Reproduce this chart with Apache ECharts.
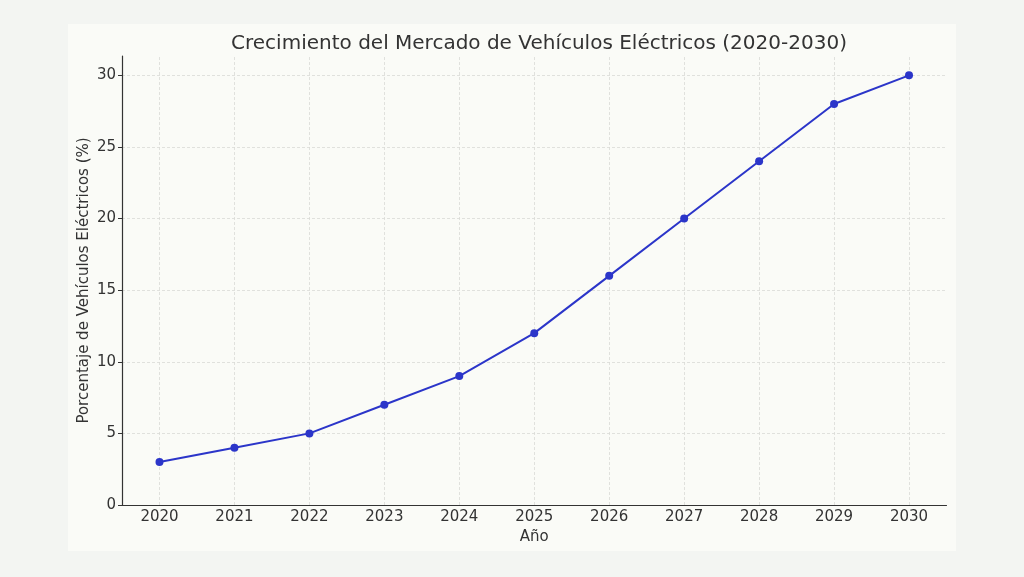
<!DOCTYPE html>
<html>
<head>
<meta charset="utf-8">
<script src="https://cdn.jsdelivr.net/npm/echarts@6/dist/echarts.min.js"></script>
<style>
html,body{margin:0;padding:0;background:#f3f5f2;}
#c{width:1024px;height:577px;}
</style>
</head>
<body>
<div id="c"></div>
<script>
const years = ['2020','2021','2022','2023','2024','2025','2026','2027','2028','2029','2030'];
const share = [3, 4, 5, 7, 9, 12, 16, 20, 24, 28, 30];
const yTicks = [0, 5, 10, 15, 20, 25, 30];
const titleText = 'Crecimiento del Mercado de Vehículos Eléctricos (2020-2030)';
const xName = 'Año';
const yName = 'Porcentaje de Vehículos Eléctricos (%)';

const chart = echarts.init(document.getElementById('c'), null, {renderer: 'canvas'});
const font = 'DejaVu Sans';
const txt = '#333333';
const gridLine = {color: '#d9dbd6', type: [3, 2], width: 0.8};
chart.setOption({
  backgroundColor: '#f3f5f2',
  animation: false,
  graphic: [{
    type: 'rect', z: -10, silent: true,
    shape: {x: 68, y: 24, width: 888, height: 527},
    style: {fill: '#fafbf7'}
  }],
  title: {
    text: titleText, left: 534, top: 29, textAlign: 'center',
    textStyle: {fontFamily: font, fontSize: 20, fontWeight: 'normal', color: txt}
  },
  grid: {left: 122, right: 77.5, top: 56, bottom: 72, containLabel: false},
  xAxis: {
    type: 'category', data: years, boundaryGap: true,
    name: xName, nameLocation: 'middle', nameGap: 24,
    nameTextStyle: {fontFamily: font, fontSize: 15, color: txt},
    axisLine: {lineStyle: {color: '#333', width: 1.2}},
    axisTick: {alignWithLabel: true, length: 4, lineStyle: {color: '#333'}},
    axisLabel: {fontFamily: font, fontSize: 15, color: txt, margin: 5},
    splitLine: {show: false}
  },
  yAxis: {
    type: 'value', min: 0, max: 31.35, interval: 5,
    name: yName, nameLocation: 'middle', nameGap: 30, nameMoveOverlap: false,
    nameTextStyle: {fontFamily: font, fontSize: 15, color: txt},
    axisLine: {show: true, lineStyle: {color: '#333', width: 1.2}},
    axisTick: {show: true, length: 4, lineStyle: {color: '#333'}},
    axisLabel: {fontFamily: font, fontSize: 15, color: txt, margin: 6, showMaxLabel: false},
    splitLine: {show: false}
  },
  series: [{
    type: 'line', data: share,
    symbol: 'circle', symbolSize: 8,
    lineStyle: {color: '#2b35c9', width: 2},
    itemStyle: {color: '#2b35c9'},
    clip: false,
    markLine: {
      silent: true, symbol: 'none', label: {show: false}, z: 0,
      lineStyle: gridLine,
      data: years.map(y => ({xAxis: y})).concat(yTicks.slice(1).map(v => ({yAxis: v})))
    }
  }]
});
</script>
</body>
</html>
